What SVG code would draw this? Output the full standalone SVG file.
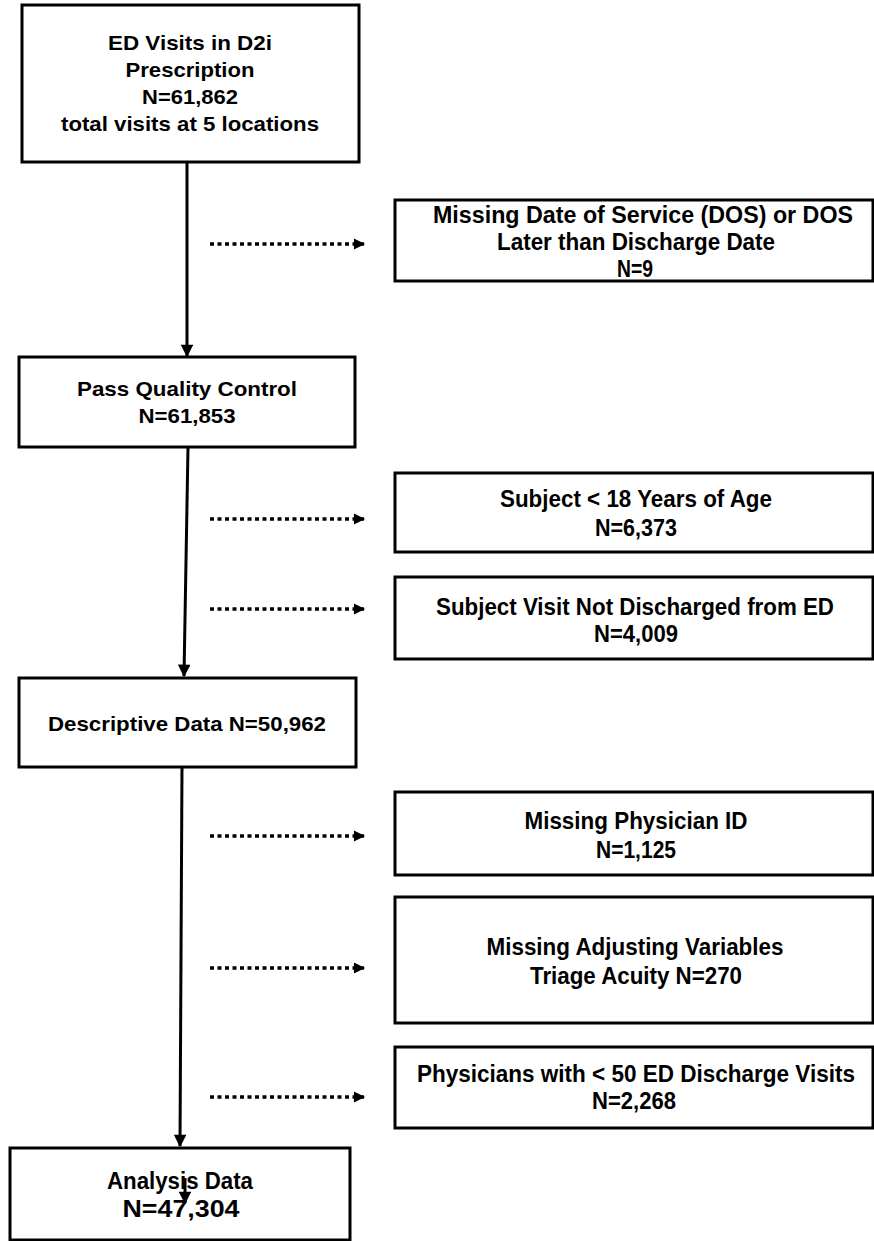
<svg xmlns="http://www.w3.org/2000/svg" width="874" height="1241" viewBox="0 0 874 1241">
<style>
.box{fill:#fff;stroke:#000;stroke-width:3}
.t{font-family:"Liberation Sans",Arial,sans-serif;font-weight:bold;font-size:21px;fill:#000;text-anchor:middle}
.r{font-size:23px}
.solid{stroke:#000;stroke-width:3;fill:none}
.dot{stroke:#000;stroke-width:3.5;fill:none;stroke-dasharray:4 3.5}
</style>
<defs>
<marker id="ah" viewBox="0 0 10 10" refX="9" refY="5" markerWidth="4.5" markerHeight="4.2" markerUnits="strokeWidth" orient="auto">
<path d="M0,0 L10,5 L0,10 Z" fill="#000"/>
</marker>
<marker id="ahd" viewBox="0 0 10 10" refX="9" refY="5" markerWidth="3.6" markerHeight="3.2" markerUnits="strokeWidth" orient="auto">
<path d="M0,0 L10,5 L0,10 Z" fill="#000"/>
</marker>
</defs>
<g id="connectors">
<line class="solid" x1="187" y1="162" x2="187" y2="356" marker-end="url(#ah)"/>
<line class="solid" x1="188" y1="447" x2="184" y2="676" marker-end="url(#ah)"/>
<line class="solid" x1="182" y1="766" x2="180" y2="1146" marker-end="url(#ah)"/>
<line class="dot" x1="210" y1="244" x2="364" y2="244" marker-end="url(#ahd)"/>
<line class="dot" x1="210" y1="519" x2="364" y2="519" marker-end="url(#ahd)"/>
<line class="dot" x1="210" y1="609" x2="364" y2="609" marker-end="url(#ahd)"/>
<line class="dot" x1="210" y1="836" x2="364" y2="836" marker-end="url(#ahd)"/>
<line class="dot" x1="210" y1="968" x2="364" y2="968" marker-end="url(#ahd)"/>
<line class="dot" x1="210" y1="1097" x2="364" y2="1097" marker-end="url(#ahd)"/>
</g>
<g id="n1">
<rect class="box" x="22" y="5" width="337" height="157"/>
<text class="t" x="190" y="50" textLength="164" lengthAdjust="spacingAndGlyphs">ED Visits in D2i</text>
<text class="t" x="190" y="77" textLength="129" lengthAdjust="spacingAndGlyphs">Prescription</text>
<text class="t" x="190" y="104" textLength="96" lengthAdjust="spacingAndGlyphs">N=61,862</text>
<text class="t" x="190" y="131" textLength="258" lengthAdjust="spacingAndGlyphs">total visits at 5 locations</text>
</g>
<g id="n2">
<rect class="box" x="395" y="200" width="478" height="81"/>
<text class="t r" x="643" y="223" textLength="420" lengthAdjust="spacingAndGlyphs">Missing Date of Service (DOS) or DOS</text>
<text class="t r" x="636" y="250" textLength="278" lengthAdjust="spacingAndGlyphs">Later than Discharge Date</text>
<text class="t r" x="635" y="277" textLength="36" lengthAdjust="spacingAndGlyphs">N=9</text>
</g>
<g id="n3">
<rect class="box" x="19" y="357" width="336" height="90"/>
<text class="t" x="187" y="396" textLength="220" lengthAdjust="spacingAndGlyphs">Pass Quality Control</text>
<text class="t" x="187" y="423" textLength="97" lengthAdjust="spacingAndGlyphs">N=61,853</text>
</g>
<g id="n4">
<rect class="box" x="395" y="473" width="478" height="79"/>
<text class="t r" x="636" y="507" textLength="272" lengthAdjust="spacingAndGlyphs">Subject &lt; 18 Years of Age</text>
<text class="t r" x="636" y="536" textLength="82" lengthAdjust="spacingAndGlyphs">N=6,373</text>
</g>
<g id="n5">
<rect class="box" x="395" y="577" width="478" height="82"/>
<text class="t r" x="635" y="615" textLength="398" lengthAdjust="spacingAndGlyphs">Subject Visit Not Discharged from ED</text>
<text class="t r" x="636" y="642" textLength="84" lengthAdjust="spacingAndGlyphs">N=4,009</text>
</g>
<g id="n6">
<rect class="box" x="19" y="678" width="337" height="89"/>
<text class="t" x="187" y="731" textLength="278" lengthAdjust="spacingAndGlyphs">Descriptive Data N=50,962</text>
</g>
<g id="n7">
<rect class="box" x="395" y="792" width="478" height="83"/>
<text class="t r" x="636" y="829" textLength="223" lengthAdjust="spacingAndGlyphs">Missing Physician ID</text>
<text class="t r" x="636" y="858" textLength="80" lengthAdjust="spacingAndGlyphs">N=1,125</text>
</g>
<g id="n8">
<rect class="box" x="395" y="897" width="478" height="126"/>
<text class="t r" x="635" y="955" textLength="297" lengthAdjust="spacingAndGlyphs">Missing Adjusting Variables</text>
<text class="t r" x="636" y="984" textLength="212" lengthAdjust="spacingAndGlyphs">Triage Acuity N=270</text>
</g>
<g id="n9">
<rect class="box" x="395" y="1047" width="478" height="81"/>
<text class="t r" x="636" y="1082" textLength="438" lengthAdjust="spacingAndGlyphs">Physicians with &lt; 50 ED Discharge Visits</text>
<text class="t r" x="634" y="1109" textLength="84" lengthAdjust="spacingAndGlyphs">N=2,268</text>
</g>
<g id="n10">
<rect class="box" x="10" y="1148" width="340" height="92"/>
<text class="t r" x="180" y="1189" textLength="146" lengthAdjust="spacingAndGlyphs">Analysis Data</text>
<text class="t r" x="181" y="1217" textLength="117" lengthAdjust="spacingAndGlyphs">N=47,304</text>
<line class="solid" x1="185" y1="1178" x2="185" y2="1203" stroke-width="2" marker-end="url(#ah)"/>
</g>
</svg>
